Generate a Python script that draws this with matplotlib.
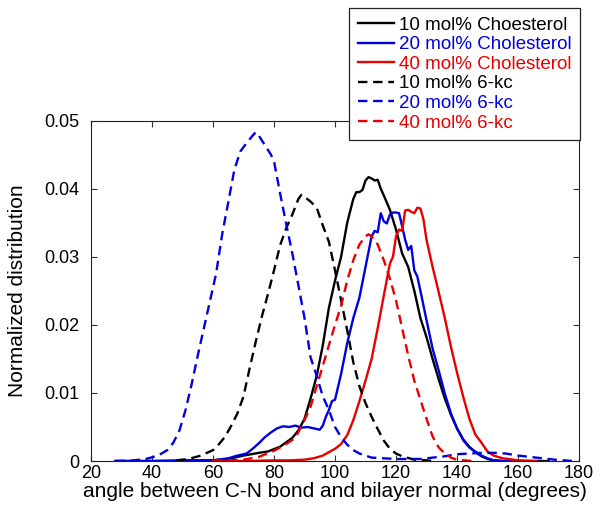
import matplotlib
matplotlib.use("Agg")
import matplotlib.pyplot as plt

plt.rcParams['font.family'] = ['Liberation Sans', 'DejaVu Sans']

# ---- data ----
chol10_x = [28, 40, 50, 60, 65, 70, 75, 78, 82, 86, 88, 90, 92, 94, 96, 98, 100, 102, 104, 106,
            107, 108, 109, 110, 111, 112, 113, 114, 115, 116, 118, 120, 122, 124, 126, 128, 130,
            132, 134, 136, 138, 140, 142, 144, 146, 148, 150, 152, 155, 160, 170]
chol10_y = [0, 0, 0.0001, 0.0001, 0.0003, 0.0008, 0.0012, 0.0014, 0.0021, 0.0034, 0.0045, 0.0062,
            0.0092, 0.0125, 0.0170, 0.0225, 0.0265, 0.0300, 0.0350, 0.0385, 0.0395, 0.0395, 0.0398,
            0.0412, 0.0417, 0.0415, 0.0412, 0.0413, 0.0400, 0.0390, 0.0369, 0.0340, 0.0305, 0.0285,
            0.0250, 0.0210, 0.0182, 0.0150, 0.0120, 0.0092, 0.0068, 0.0048, 0.0032, 0.0021, 0.0013,
            0.0007, 0.0003, 0.0001, 0, 0, 0]

chol20_x = [28, 50, 60, 65, 68, 71, 73, 75, 77, 79, 81, 83, 85, 87, 89, 91, 93, 95, 96, 97, 98, 99,
            100, 102, 104, 106, 108, 110, 112, 113, 114, 115, 116, 117, 118, 119, 120, 121, 122,
            123, 124, 125, 126, 127, 128, 130, 132, 134, 136, 138, 140, 142, 144, 146, 148, 150,
            152, 155, 160]
chol20_y = [0, 0, 0.0001, 0.0004, 0.0008, 0.0011, 0.0018, 0.0026, 0.0035, 0.0042, 0.0048, 0.0051,
            0.0050, 0.0052, 0.0049, 0.0050, 0.0048, 0.0046, 0.0052, 0.0065, 0.0075, 0.0088, 0.0090,
            0.0128, 0.0173, 0.0210, 0.0240, 0.0285, 0.0330, 0.0338, 0.0336, 0.0364, 0.0352, 0.0349,
            0.0362, 0.0365, 0.0365, 0.0364, 0.0345, 0.0325, 0.0310, 0.0316, 0.0280, 0.0271, 0.0250,
            0.0207, 0.0165, 0.0133, 0.0099, 0.0070, 0.0048, 0.0031, 0.0020, 0.0014, 0.0008, 0.0004,
            0.0001, 0, 0]

chol40_x = [60, 70, 80, 85, 90, 93, 96, 98, 100, 102, 104, 106, 108, 110, 112, 114, 116, 118, 119,
            120, 121, 122, 123, 124, 125, 126, 127, 128, 129, 130, 132, 134, 136, 138, 140, 142,
            144, 146, 148, 150, 152, 155, 160, 166]
chol40_y = [0, 0, 0.0001, 0.0001, 0.0002, 0.0004, 0.0008, 0.0013, 0.0018, 0.0025, 0.0038, 0.0060,
            0.0088, 0.0118, 0.0150, 0.0195, 0.0243, 0.0290, 0.0300, 0.0330, 0.0340, 0.0338, 0.0368,
            0.0369, 0.0366, 0.0364, 0.0372, 0.0371, 0.0355, 0.0325, 0.0285, 0.0248, 0.0210, 0.0168,
            0.0130, 0.0095, 0.0063, 0.0039, 0.0027, 0.0014, 0.0008, 0.0004, 0.0001, 0]

kc10_x = [48, 52, 56, 60, 62, 64, 66, 68, 70, 72, 74, 76, 78, 80, 82, 84, 86, 88, 89, 90, 92, 94,
          96, 98, 100, 102, 104, 106, 108, 110, 112, 114, 116, 118, 120, 122, 126, 130, 132]
kc10_y = [0.0001, 0.0003, 0.0008, 0.0016, 0.0025, 0.0036, 0.0052, 0.0070, 0.0095, 0.0136, 0.0175,
          0.0212, 0.0245, 0.0280, 0.0317, 0.0342, 0.0362, 0.0385, 0.0391, 0.0388, 0.0381, 0.0372,
          0.0346, 0.0322, 0.0280, 0.0236, 0.0192, 0.0145, 0.0110, 0.0085, 0.0065, 0.0047, 0.0030,
          0.0018, 0.0011, 0.0007, 0.0002, 0.0001, 0]

kc20_x = [28, 34, 38, 42, 45, 47, 49, 51, 53, 55, 57, 59, 61, 63, 65, 67, 69, 71, 73, 74, 75, 77,
          79, 80, 82, 84, 86, 88, 90, 92, 94, 96, 98, 100, 102, 104, 106, 108, 112, 120, 128, 132,
          136, 140, 144, 148, 152, 156, 160, 164, 168, 172, 178]
kc20_y = [0, 0.0001, 0.0003, 0.0008, 0.0016, 0.0027, 0.0045, 0.0075, 0.0113, 0.0155, 0.0195,
          0.0235, 0.0275, 0.0333, 0.0380, 0.0428, 0.0455, 0.0467, 0.0478, 0.0483, 0.0478, 0.0464,
          0.0450, 0.0440, 0.0393, 0.0348, 0.0305, 0.0258, 0.0210, 0.0152, 0.0125, 0.0095, 0.0075,
          0.0050, 0.0035, 0.0024, 0.0016, 0.0011, 0.0005, 0.0003, 0.0003, 0.0005, 0.0007, 0.0010,
          0.0011, 0.0012, 0.0012, 0.0011, 0.0008, 0.0006, 0.0004, 0.0002, 0]

kc40_x = [60, 70, 75, 80, 84, 87, 90, 92, 94, 96, 98, 100, 102, 104, 106, 108, 110, 111, 112, 114,
          116, 118, 120, 122, 124, 126, 128, 130, 132, 134, 136, 138, 140, 145]
kc40_y = [0, 0.0002, 0.0006, 0.0015, 0.0025, 0.0034, 0.0060, 0.0080, 0.0110, 0.0140, 0.0170,
          0.0200, 0.0228, 0.0265, 0.0295, 0.0318, 0.0330, 0.0333, 0.0330, 0.0318, 0.0295, 0.0268,
          0.0236, 0.0195, 0.0155, 0.0118, 0.0090, 0.0062, 0.0036, 0.0020, 0.0011, 0.0005, 0.0002, 0]

labels = ['10 mol% Choesterol', '20 mol% Cholesterol', '40 mol% Cholesterol',
          '10 mol% 6-kc', '20 mol% 6-kc', '40 mol% 6-kc']
colors = ['black', '#0000e0', '#e80000', 'black', '#0000e0', '#e80000']

xticks = [20, 40, 60, 80, 100, 120, 140, 160, 180]
yticks = [0, 0.01, 0.02, 0.03, 0.04, 0.05]
yticklabels = ['0', '0.01', '0.02', '0.03', '0.04', '0.05']

# ---- figure ----
fig = plt.figure(figsize=(6.04, 5.11), dpi=100)
ax = fig.add_axes([0.1507, 0.0978, 0.8079, 0.6662])

series = [(chol10_x, chol10_y), (chol20_x, chol20_y), (chol40_x, chol40_y),
          (kc10_x, kc10_y), (kc20_x, kc20_y), (kc40_x, kc40_y)]
handles = []
for i, ((xs, ys), lab, col) in enumerate(zip(series, labels, colors)):
    if i < 3:
        h, = ax.plot(xs, ys, color=col, lw=1.7, label=lab)
    else:
        h, = ax.plot(xs, ys, color=col, lw=1.7, ls=(0, (4, 2.4)), label=lab)
    handles.append(h)

ax.set_xlim(20, 180)
ax.set_ylim(0, 0.05)
ax.set_xticks(xticks)
ax.set_yticks(yticks)
ax.set_yticklabels(yticklabels)
ax.tick_params(direction='in', top=True, right=True, labelsize=13, length=4,
               width=0.8, color='#333333')
ax.tick_params(axis='y', pad=8.5)
ax.tick_params(axis='x', pad=3)
for s in ax.spines.values():
    s.set_linewidth(0.8)
    s.set_color('#222222')

ax.set_xlabel('angle between C-N bond and bilayer normal (degrees)', fontsize=15, labelpad=0)
ax.set_ylabel('Normalized distribution', fontsize=15, labelpad=12)

leg = fig.legend(handles=handles, labels=labels, loc='upper right',
                 bbox_to_anchor=(0.960, 0.984), bbox_transform=fig.transFigure,
                 fontsize=13.5, frameon=True, fancybox=False, framealpha=1,
                 edgecolor='#222222', borderaxespad=0, borderpad=0.45,
                 labelspacing=0.13, handlelength=1.92, handletextpad=0.27)
leg.get_frame().set_linewidth(0.9)
for t, c in zip(leg.get_texts(), colors):
    t.set_color(c)

fig.savefig('out.png', dpi=100)
